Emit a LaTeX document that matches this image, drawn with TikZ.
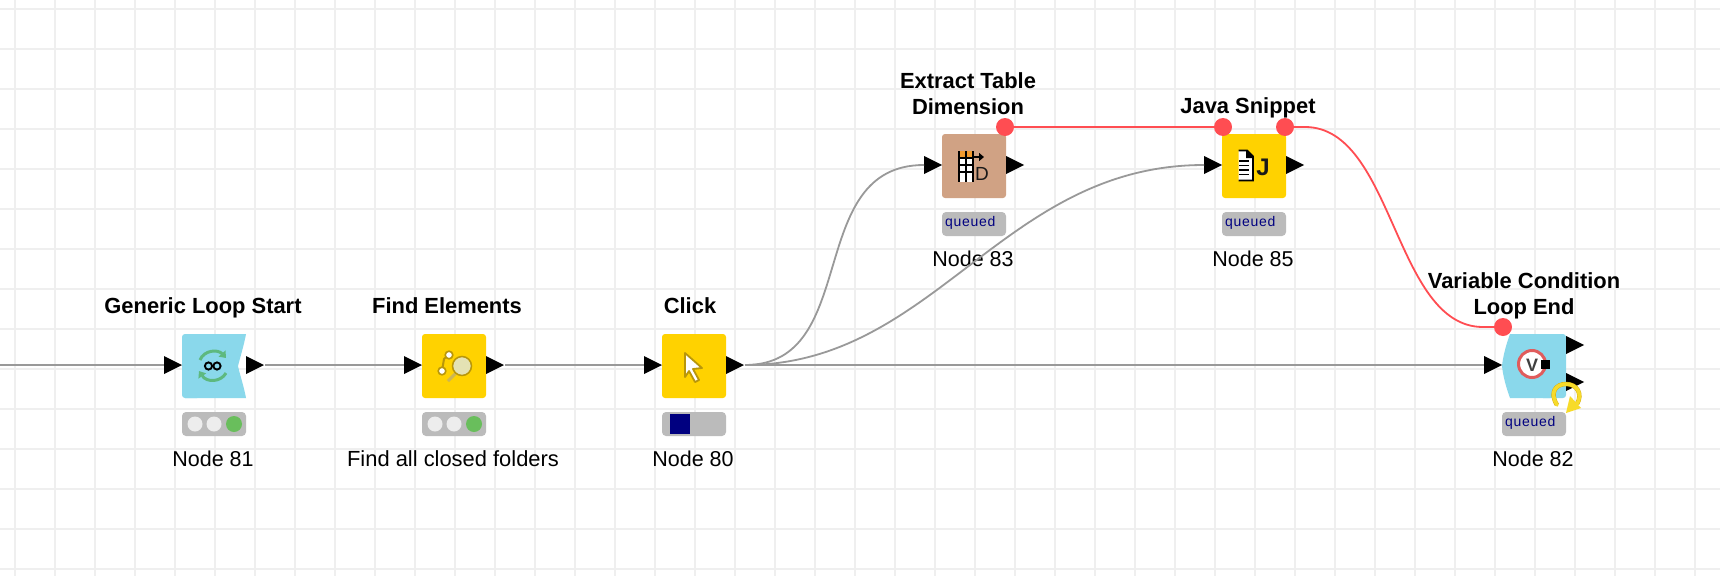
\documentclass[tikz,border=0pt]{standalone}
\usepackage{fontspec}
\setmainfont{Liberation Sans}
\newfontfamily\qfont[LetterSpace=5]{Liberation Sans}
\usetikzlibrary{arrows.meta}
\definecolor{gridc}{HTML}{EFEFEF}
\definecolor{wirec}{HTML}{999999}
\definecolor{redc}{HTML}{FF4D52}
\definecolor{loopc}{HTML}{8AD8EB}
\definecolor{manipc}{HTML}{FFD200}
\definecolor{tanc}{HTML}{D0A284}
\definecolor{statc}{HTML}{BBBBBB}
\definecolor{dotc}{HTML}{EDEDED}
\definecolor{okc}{HTML}{69BE5C}
\definecolor{navyc}{HTML}{000080}
\definecolor{goldc}{HTML}{B8960A}
\definecolor{loopg}{HTML}{5DB97F}
\definecolor{spinc}{HTML}{F7DB2A}
\definecolor{lensc}{HTML}{E4E2B4}
\definecolor{headc}{HTML}{F29A2E}
\definecolor{ringc}{HTML}{E05C5C}
\definecolor{spinshade}{HTML}{D4A90A}
\tikzset{
  box/.style={minimum width=64pt,minimum height=64pt,inner sep=0pt,outer sep=0pt,rounded corners=3pt},
  statusbar/.style={fill=statc,minimum width=64pt,minimum height=24pt,inner sep=0pt,outer sep=0pt,rounded corners=4pt},
  titletext/.style={font=\fontsize{21.9}{26}\selectfont\bfseries,align=center,inner sep=0pt,text=black},
  titleline/.style={titletext,anchor=base},
  nametext/.style={font=\fontsize{21.5}{26}\selectfont,inner sep=0pt,text=black},
  queuedtext/.style={font=\fontsize{14}{16}\qfont,text=navyc,inner sep=0pt,anchor=base west},
  wire/.style={draw=wirec,line width=1.8pt},
  varwire/.style={draw=redc,line width=1.8pt},
  varport/.style={circle,fill=redc,minimum size=18pt,inner sep=0pt,outer sep=0pt},
  ledgrey/.style={circle,fill=dotc,minimum size=15pt,inner sep=0pt},
  ledgreen/.style={circle,fill=okc,minimum size=16pt,inner sep=0pt},
}
\newcommand{\porttri}[3]{\coordinate (#1) at (#2,#3);\fill[black] (#2,#3-9) -- (#2+18,#3) -- (#2,#3+9) -- cycle;}
\newcommand{\leds}[2]{%
  \node[statusbar] (#1) at (#2,424) {};
  \node[ledgrey] (#1a) at (#2-19,424) {};
  \node[ledgrey] (#1b) at (#2,424) {};
  \node[ledgreen] (#1c) at (#2+20,424) {};}
\begin{document}
\begin{tikzpicture}[x=1pt,y=-1pt]
\useasboundingbox (0,0) rectangle (1720,576);
\fill[white] (0,0) rectangle (1720,576);
% grid
\foreach \gx in {0,...,42} \fill[gridc] (14+40*\gx,0) rectangle (16+40*\gx,576);
\foreach \gy in {0,...,14} \fill[gridc] (0,8+40*\gy) rectangle (1720,10+40*\gy);

\coordinate (leftend) at (0,365);
% node bodies
\fill[loopc,rounded corners=3pt] (182,398) -- (182,334) -- (200,334) -- (200,398) -- cycle;
\fill[loopc] (185,334) -- (246,334) .. controls (244,345) and (240,358) .. (238,366) .. controls (240,375) and (244,387) .. (246,398) -- (185,398) -- cycle;
\node[box,fill=manipc] (n80a) at (454,366) {};
\node[box,fill=manipc] (n80b) at (694,366) {};
\node[box,fill=tanc] (n83) at (974,166) {};
\node[box,fill=manipc] (n85) at (1254,166) {};
\fill[loopc,rounded corners=3pt] (1540,334) -- (1566,334) -- (1566,398) -- (1540,398) -- cycle;
\fill[loopc] (1550,334) -- (1510,334) .. controls (1506,345) and (1503,356) .. (1502,366) .. controls (1503,376) and (1506,387) .. (1510,398) -- (1550,398) -- cycle;

% ports
\porttri{gi}{164}{365}
\porttri{go}{246}{365}
\porttri{fi}{404}{365}
\porttri{fo}{486}{365}
\porttri{ci}{644}{365}
\porttri{co}{726}{365}
\porttri{ei}{924}{165}
\porttri{eo}{1006}{165}
\porttri{ji}{1204}{165}
\porttri{jo}{1286}{165}
\porttri{vi}{1484}{365}
\porttri{voa}{1566}{345}
\porttri{vob}{1566}{382}
\coordinate (gt) at (265,365);
\coordinate (ft) at (505,365);
\coordinate (ct) at (745,365);

% variable ports
\node[varport] (ev) at (1005,127) {};
\node[varport] (jva) at (1223,127) {};
\node[varport] (jvb) at (1285,127) {};
\node[varport] (vv) at (1503,327) {};

% loop start icon
\draw[loopg,line width=3pt,-{Triangle[length=6pt,width=9pt]}] (200,360) .. controls (204,350) and (218,349) .. (226,358);
\draw[loopg,line width=3pt,-{Triangle[length=6pt,width=9pt]}] (226,373) .. controls (221,382) and (207,383) .. (199,371);
\draw[black,line width=1.9pt] (208.5,366) circle[radius=3.6pt];
\draw[black,line width=1.9pt] (217,366) circle[radius=3.6pt];

% find elements icon
\draw[goldc,line width=2pt] (449,354) -- (444,359) -- (442,371);
\fill[white,draw=goldc,line width=1.6pt] (449,355) circle[radius=3.8pt];
\fill[white,draw=goldc,line width=1.6pt] (442,371) circle[radius=3.8pt];
\draw[goldc!70!white,line width=3pt] (456,373) -- (448,381);
\fill[lensc,draw=goldc,line width=1.5pt] (462,366) circle[radius=9.5pt];

% click cursor
\draw[goldc,fill=white,line width=1.8pt,line join=round] (685,353) -- (702,368) -- (693,369) -- (699,380) -- (695,382) -- (689,371) -- (685,377) -- cycle;

% extract table dimension icon
\fill[white] (958,151) rectangle (973,182);
\fill[headc] (958,151) rectangle (973,157);
\draw[black,line width=2pt] (959,151) -- (959,182) (966,151) -- (966,182) (973,151) -- (973,182)
  (958,157.5) -- (973,157.5) (958,164.5) -- (973,164.5) (958,172) -- (973,172);
\draw[black,line width=2pt,-{Triangle[length=5pt,width=8pt]}] (973,157) -- (984,157);
\node[inner sep=0pt,font=\fontsize{19}{20}\selectfont,text=black!90] (dlet) at (982,174) {D};

% java icon
\fill[white,draw=black,line width=1.8pt,line join=miter] (1238.5,150.5) -- (1247,150.5) -- (1253,156.5) -- (1253,180.5) -- (1238.5,180.5);
\fill[black] (1246,150) -- (1254,158) -- (1246,158) -- cycle;
\draw[black,line width=1.6pt] (1239,161) -- (1249,161) (1239,165.5) -- (1249,165.5) (1239,170) -- (1249,170) (1239,174.5) -- (1249,174.5);
\node[inner sep=0pt,font=\fontsize{24}{26}\selectfont\bfseries,text=black!90] (jlet) at (1263,167) {J};

% loop end icon
\fill[white,draw=ringc,line width=3pt] (1532,364) circle[radius=13.5pt];
\node[inner sep=0pt,font=\fontsize{18}{19}\selectfont\bfseries,text=black!75] (vlet) at (1532,365) {V};
\fill[black] (1541,360) rectangle (1550,369);
% spinner
\draw[spinshade,line width=4.4pt] (1557,405) .. controls (1549,392) and (1556,384) .. (1566,384) .. controls (1577,384) and (1583,394) .. (1577,404);
\draw[spinc,line width=3.6pt,line cap=round] (1557,405) .. controls (1549,392) and (1556,384) .. (1566,384) .. controls (1577,384) and (1583,394) .. (1577,404);
\fill[spinc] (1566,413) -- (1570,396) -- (1581,408) -- cycle;

% status bars
\leds{st81}{214}
\leds{st84}{454}
\node[statusbar] (st80) at (694,424) {};
\node[fill=navyc,minimum width=20pt,minimum height=20pt,inner sep=0pt] (st80p) at (680,424) {};
\node[statusbar] (st83) at (974,224) {};
\node[queuedtext] (q83) at (945,226) {queued};
\node[statusbar] (st85) at (1254,224) {};
\node[queuedtext] (q85) at (1225,226) {queued};
\node[statusbar] (st82) at (1534,424) {};
\node[queuedtext] (q82) at (1505,426) {queued};

% titles
\node[titleline] (t81) at (203,313) {Generic Loop Start};
\node[titleline] (t84) at (447,313) {Find Elements};
\node[titleline] (t80) at (690,313) {Click};
\node[titletext] (t83) at (968,94) {Extract Table\\Dimension};
\node[titleline] (t85) at (1248,113) {Java Snippet};
\node[titletext] (t82) at (1524,296) {Variable Condition\\Loop End};
% names
\node[nametext] (l81) at (213,459) {Node 81};
\node[nametext,font=\fontsize{21.9}{26}\selectfont] (l84) at (453,459) {Find all closed folders};
\node[nametext] (l80) at (693,459) {Node 80};
\node[nametext] (l83) at (973,259) {Node 83};
\node[nametext] (l85) at (1253,259) {Node 85};
\node[nametext] (l82) at (1533,459) {Node 82};

% connectors, over the labels
\draw[wire] (leftend) -- (gi);
\draw[wire] (gt) -- (fi);
\draw[wire] (ft) -- (ci);
\draw[wire] (ct) -- (vi);
\draw[wire] (ct) .. controls (862,365) and (803,165) .. (ei);
\draw[wire] (ct) .. controls (935,365) and (1002,165) .. (ji);
\draw[varwire] (ev) -- (jva);
\draw[varwire] (jvb.center) -- (1305,127) .. controls (1394,127) and (1394,327) .. (1483,327) -- (vv.center);
\end{tikzpicture}
\end{document}
